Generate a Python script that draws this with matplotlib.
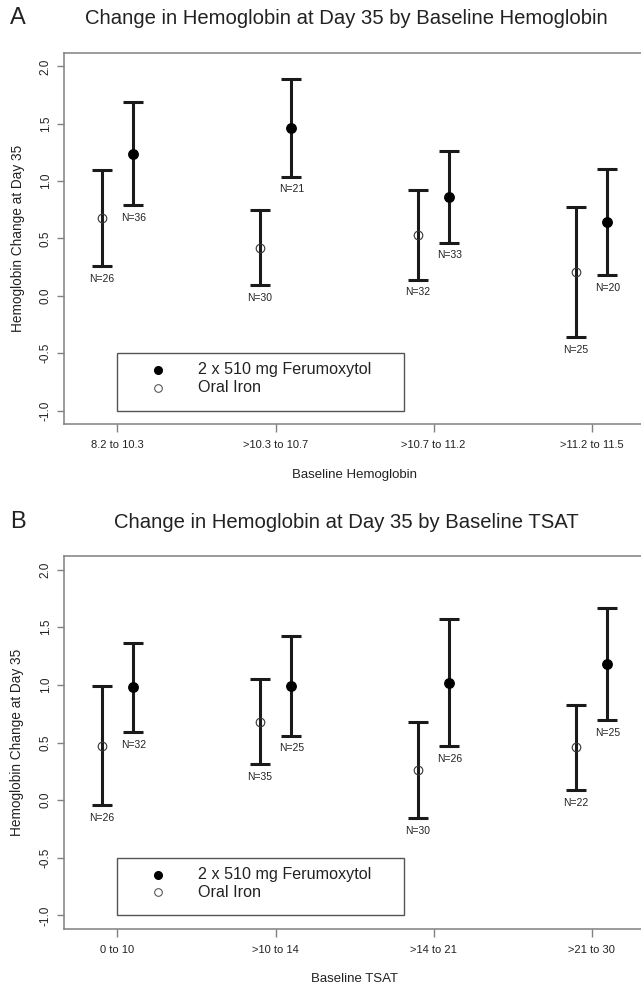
import numpy as np
import matplotlib
matplotlib.use('Agg')
import matplotlib.pyplot as plt
from matplotlib.patches import Rectangle

plt.rcParams['font.family'] = ['Liberation Sans', 'DejaVu Sans']

# panel A: by baseline hemoglobin
hgb_groups = ['8.2 to 10.3', '>10.3 to 10.7', '>10.7 to 11.2', '>11.2 to 11.5']
hgb_fer_mean = [1.24, 1.46, 0.86, 0.645]
hgb_fer_low = [0.79, 1.04, 0.465, 0.18]
hgb_fer_high = [1.69, 1.89, 1.26, 1.11]
hgb_fer_n = [36, 21, 33, 20]
hgb_oral_mean = [0.68, 0.42, 0.53, 0.21]
hgb_oral_low = [0.26, 0.094, 0.14, -0.36]
hgb_oral_high = [1.10, 0.75, 0.92, 0.775]
hgb_oral_n = [26, 30, 32, 25]

# panel B: by baseline TSAT
tsat_groups = ['0 to 10', '>10 to 14', '>14 to 21', '>21 to 30']
tsat_fer_mean = [0.977, 0.99, 1.015, 1.18]
tsat_fer_low = [0.59, 0.56, 0.466, 0.696]
tsat_fer_high = [1.364, 1.42, 1.567, 1.67]
tsat_fer_n = [32, 25, 26, 25]
tsat_oral_mean = [0.47, 0.68, 0.26, 0.457]
tsat_oral_low = [-0.046, 0.31, -0.156, 0.087]
tsat_oral_high = [0.99, 1.047, 0.68, 0.827]
tsat_oral_n = [26, 35, 30, 22]

W, H = 641, 988
fig = plt.figure(figsize=(W / 100, H / 100), dpi=100)

gray = '#808080'
txt = '#222222'


def panel(top_px, bottom_px, letter, title, title_y, xlab, xlab_y, ylab_x,
          groups, fm, fl, fh, fn, om, ol, oh, on):
    left_px, right_px = 64.3, 644.8
    ax = fig.add_axes([left_px / W, 1 - bottom_px / H,
                       (right_px - left_px) / W, (bottom_px - top_px) / H])
    x = np.arange(1, len(groups) + 1)
    off = 0.1
    fm, fl, fh = np.array(fm), np.array(fl), np.array(fh)
    om, ol, oh = np.array(om), np.array(ol), np.array(oh)

    # error bars (no markers), then the points on top
    ax.errorbar(x - off, om, yerr=[om - ol, oh - om], fmt='none',
                ecolor='#1a1a1a', elinewidth=2.2, capsize=7, capthick=2.2)
    ax.errorbar(x + off, fm, yerr=[fm - fl, fh - fm], fmt='none',
                ecolor='#1a1a1a', elinewidth=2.2, capsize=7, capthick=2.2)
    ax.plot(x - off, om, 'o', mfc='none', mec='#333333', mew=0.8, ms=6.2,
            zorder=4)
    ax.plot(x + off, fm, 'o', color='black', ms=6.8, zorder=4)
    for xi, lo, n in zip(x - off, ol, on):
        ax.text(xi, lo - 0.11, 'N=%d' % n, ha='center', va='center',
                fontsize=7.5, color=txt)
    for xi, lo, n in zip(x + off, fl, fn):
        ax.text(xi, lo - 0.11, 'N=%d' % n, ha='center', va='center',
                fontsize=7.5, color=txt)

    # legend box
    ax.add_patch(Rectangle((1.0, -1.0), 1.81, 0.5, fill=False, ec='#555555',
                           lw=1.0, zorder=2))
    ax.plot([1.255], [-0.645], 'o', color='black', ms=5.5)
    ax.plot([1.255], [-0.80], 'o', mfc='none', mec='#444444', mew=0.7, ms=5.5)
    ax.text(1.51, -0.645, '2 x 510 mg Ferumoxytol', fontsize=11.6,
            va='center', ha='left', color=txt)
    ax.text(1.51, -0.80, 'Oral Iron', fontsize=11.6, va='center', ha='left',
            color=txt)

    ax.set_xlim(0.664, 4.336)
    ax.set_ylim(-1.12, 2.12)
    ax.set_xticks(x)
    ax.set_xticklabels(groups)
    ax.set_yticks([-1.0, -0.5, 0.0, 0.5, 1.0, 1.5, 2.0])
    ax.set_yticklabels(['-1.0', '-0.5', '0.0', '0.5', '1.0', '1.5', '2.0'])
    for lab in ax.get_yticklabels():
        lab.set_rotation(90)
        lab.set_va('center')
    ax.tick_params(axis='x', length=6, width=1, color=gray, labelsize=8,
                   labelcolor=txt, pad=5)
    ax.tick_params(axis='y', length=5, width=1, color=gray, labelsize=8.5,
                   labelcolor=txt, pad=4)
    for s in ax.spines.values():
        s.set_color(gray)
        s.set_linewidth(1.1)

    fig.text(10 / W, 1 - title_y / H, letter, fontsize=17, ha='left',
             va='center', color=txt)
    fig.text(346 / W, 1 - title_y / H, title, fontsize=14.6, ha='center',
             va='center', color=txt)
    fig.text(354.5 / W, 1 - xlab_y / H, xlab, fontsize=9.5, ha='center',
             va='center', color=txt)
    fig.text(ylab_x / W, 1 - (top_px + bottom_px) / 2 / H,
             'Hemoglobin Change at Day 35', fontsize=9.8, rotation=90,
             ha='center', va='center', color=txt)
    return ax


panel(52.7, 424.3, 'A', 'Change in Hemoglobin at Day 35 by Baseline Hemoglobin',
      18.3, 'Baseline Hemoglobin', 475, 18,
      hgb_groups, hgb_fer_mean, hgb_fer_low, hgb_fer_high, hgb_fer_n,
      hgb_oral_mean, hgb_oral_low, hgb_oral_high, hgb_oral_n)

panel(555.7, 929.3, 'B', 'Change in Hemoglobin at Day 35 by Baseline TSAT',
      522.5, 'Baseline TSAT', 979.3, 17,
      tsat_groups, tsat_fer_mean, tsat_fer_low, tsat_fer_high, tsat_fer_n,
      tsat_oral_mean, tsat_oral_low, tsat_oral_high, tsat_oral_n)

fig.savefig('out.png', dpi=100)
